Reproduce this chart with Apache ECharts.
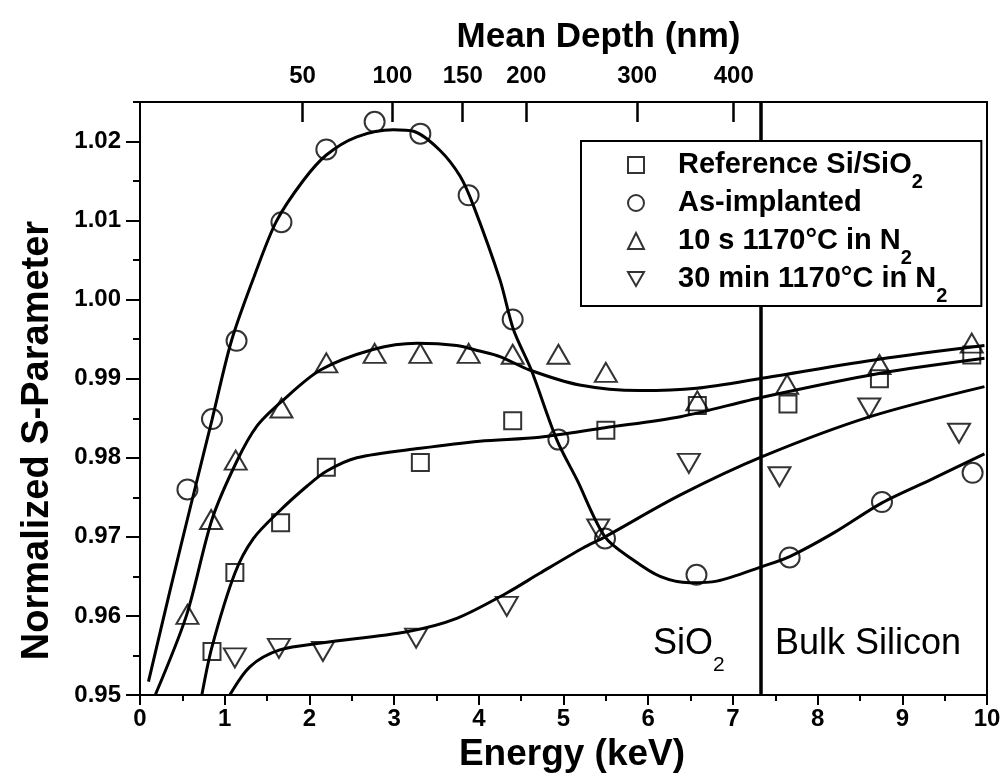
<!DOCTYPE html>
<html>
<head>
<meta charset="utf-8">
<script src="https://cdn.jsdelivr.net/npm/echarts@6/dist/echarts.min.js"></script>
<style>
html,body{margin:0;padding:0;background:#fff;}
#c{width:1006px;height:784px;}
</style>
</head>
<body>
<div id="c"></div>
<script>
// ---------- measured points ----------
const refE = [0.85, 1.12, 1.66, 2.20, 3.31, 4.40, 5.50, 6.58, 7.65, 8.73, 9.82];
const refS = [0.9555, 0.9655, 0.9718, 0.9788, 0.9794, 0.9847, 0.9835, 0.9866, 0.9868, 0.9900, 0.9930];

const asImpE = [0.56, 0.85, 1.14, 1.67, 2.20, 2.77, 3.31, 3.88, 4.40, 4.94, 5.49, 6.57, 7.67, 8.76, 9.83];
const asImpS = [0.9760, 0.9849, 0.9948, 1.0098, 1.0190, 1.0225, 1.0210, 1.0132, 0.9975, 0.9823, 0.9698, 0.9652, 0.9674, 0.9744, 0.9781];

const ann10sE = [0.56, 0.84, 1.13, 1.67, 2.20, 2.77, 3.31, 3.88, 4.40, 4.94, 5.50, 6.58, 7.64, 8.73, 9.82];
const ann10sS = [0.9602, 0.9722, 0.9797, 0.9863, 0.9920, 0.9932, 0.9932, 0.9932, 0.9931, 0.9931, 0.9908, 0.9872, 0.9893, 0.9918, 0.9945];

const ann30mE = [1.12, 1.64, 2.16, 3.26, 4.33, 5.41, 6.48, 7.55, 8.61, 9.67];
const ann30mS = [0.9547, 0.9559, 0.9555, 0.9572, 0.9612, 0.9710, 0.9793, 0.9776, 0.9863, 0.9831];

// ---------- fitted curves ----------
const refFitE = [0.73, 0.85, 1.12, 1.34, 1.65, 1.97, 2.20, 2.56, 3.31, 4.01, 4.72, 5.49, 6.38, 7.36, 8.74, 9.97];
const refFitS = [0.9500, 0.9561, 0.9654, 0.9698, 0.9733, 0.9764, 0.9783, 0.9800, 0.9812, 0.9821, 0.9826, 0.9838, 0.9852, 0.9877, 0.9907, 0.9926];

const asImpFitE = [0.10, 0.35, 0.60, 0.85, 1.08, 1.35, 1.61, 1.93, 2.20, 2.56, 2.99, 3.23, 3.54, 3.78, 3.94, 4.25, 4.41, 4.62, 4.92, 5.16, 5.49, 5.82, 6.14, 6.49, 6.81, 7.36, 7.67, 8.19, 8.76, 9.35, 9.97];
const asImpFitS = [0.9517, 0.9630, 0.9740, 0.9848, 0.9948, 1.0030, 1.0099, 1.0151, 1.0183, 1.0206, 1.0215, 1.0213, 1.0189, 1.0156, 1.0118, 1.0025, 0.9962, 0.9911, 0.9823, 0.9772, 0.9700, 0.9671, 0.9650, 0.9642, 0.9644, 0.9663, 0.9675, 0.9705, 0.9743, 0.9773, 0.9805];

const ann10sFitE = [0.18, 0.55, 0.85, 1.14, 1.38, 1.67, 2.13, 2.75, 3.27, 3.74, 4.01, 4.25, 4.60, 5.19, 5.90, 6.57, 7.36, 8.74, 9.97];
const ann10sFitS = [0.9500, 0.9601, 0.9722, 0.9795, 0.9840, 0.9871, 0.9911, 0.9937, 0.9945, 0.9942, 0.9935, 0.9928, 0.9911, 0.9892, 0.9885, 0.9888, 0.9901, 0.9925, 0.9942];

const ann30mFitE = [1.06, 1.30, 1.65, 2.16, 3.15, 3.74, 4.33, 4.72, 5.23, 5.49, 6.38, 7.36, 8.62, 9.97];
const ann30mFitS = [0.9500, 0.9536, 0.9557, 0.9566, 0.9580, 0.9597, 0.9629, 0.9654, 0.9686, 0.9700, 0.9753, 0.9802, 0.9852, 0.9890];

// ---------- axes ----------
const sTicks = [0.95, 0.96, 0.97, 0.98, 0.99, 1.00, 1.01, 1.02];
const depthLabels = [50, 100, 150, 200, 300, 400];
const depthEnergies = [1.92, 2.98, 3.81, 4.56, 5.87, 7.01];
const boundaryEnergy = 7.33;

const seriesNames = ['Reference Si/SiO2', 'As-implanted', '10 s 1170°C in N2', '30 min 1170°C in N2'];
const legendRich = {
  'Reference Si/SiO2': '{g|}{t|Reference Si/SiO}{s|2}',
  'As-implanted': '{g|}{t|As-implanted}{s| }',
  '10 s 1170°C in N2': '{g|}{t|10 s 1170°C in N}{s|2}',
  '30 min 1170°C in N2': '{g|}{t|30 min 1170°C in N}{s|2}'
};

const FONT = "'Liberation Sans', Arial, Helvetica, sans-serif";
const BLACK = '#000';
const pairs = (xs, ys) => xs.map((x, i) => [x, ys[i]]);
const markerStyle = { color: 'rgba(0,0,0,0)', borderColor: BLACK, borderWidth: 2 };
const fitLine = (name, xs, ys) => ({
  name: name, type: 'line', data: pairs(xs, ys), xAxisIndex: 0, yAxisIndex: 0,
  showSymbol: false, symbol: 'none', smooth: 0.3,
  lineStyle: { color: BLACK, width: 3 }, z: 2, silent: true
});
const dots = (name, xs, ys, symbol, size, rotate) => ({
  name: name, type: 'scatter', data: pairs(xs, ys), xAxisIndex: 0, yAxisIndex: 0,
  symbol: symbol, symbolSize: size, symbolRotate: rotate || 0,
  itemStyle: markerStyle, z: 3
});

const series = [
  fitLine('fit-ref', refFitE, refFitS),
  fitLine('fit-asimp', asImpFitE, asImpFitS),
  fitLine('fit-10s', ann10sFitE, ann10sFitS),
  fitLine('fit-30m', ann30mFitE, ann30mFitS),
  dots(seriesNames[0], refE, refS, 'rect', 17),
  dots(seriesNames[1], asImpE, asImpS, 'circle', 20),
  dots(seriesNames[2], ann10sE, ann10sS, 'triangle', [22, 19]),
  dots(seriesNames[3], ann30mE, ann30mS, 'triangle', [22, 19], 180)
];
series[0].markLine = {
  silent: true, z: 2, symbol: ['none', 'none'], label: { show: false },
  lineStyle: { color: BLACK, width: 3.5, type: 'solid' },
  data: [{ xAxis: boundaryEnergy }], animation: false
};

const tickLabel = { fontFamily: FONT, fontSize: 24, fontWeight: 'bold', color: BLACK };
const titleStyle = (size) => ({ fontFamily: FONT, fontSize: size, fontWeight: 'bold', color: BLACK, lineHeight: size });

const option = {
  backgroundColor: '#fff',
  animation: false,
  grid: { left: 140, right: 19, top: 102, bottom: 89, show: true, borderColor: BLACK, borderWidth: 2,
          containLabel: false, outerBoundsMode: 'none' },
  xAxis: [
    {
      type: 'value', position: 'bottom', min: 0, max: 10, interval: 1,
      name: 'Energy (keV)', nameLocation: 'middle', nameGap: 37,
      nameTextStyle: Object.assign(titleStyle(37), { padding: [0, 0, 0, 17] }),
      axisLine: { show: true, lineStyle: { color: BLACK, width: 2 } },
      axisTick: { show: true, inside: false, length: 10, lineStyle: { color: BLACK, width: 2 } },
      minorTick: { show: true, splitNumber: 2, length: 6, lineStyle: { color: BLACK, width: 2 } },
      axisLabel: Object.assign({ margin: 12, formatter: v => String(v) }, tickLabel),
      splitLine: { show: false }, minorSplitLine: { show: false }
    },
    {
      type: 'value', position: 'top', min: 0, max: 10,
      name: 'Mean Depth (nm)', nameLocation: 'middle', nameGap: 47,
      nameTextStyle: Object.assign(titleStyle(35), { padding: [0, 0, 0, 70] }),
      axisLine: { show: true, lineStyle: { color: BLACK, width: 2 } },
      axisTick: { show: true, inside: true, length: 20, customValues: depthEnergies, lineStyle: { color: BLACK, width: 2.5 } },
      axisLabel: Object.assign({
        margin: 14, customValues: depthEnergies,
        formatter: v => {
          let best = 0;
          depthEnergies.forEach((e, i) => { if (Math.abs(e - v) < Math.abs(depthEnergies[best] - v)) best = i; });
          return String(depthLabels[best]);
        }
      }, tickLabel),
      splitLine: { show: false }
    }
  ],
  yAxis: [
    {
      type: 'value', position: 'left', min: 0.95, max: 1.025,
      name: 'Normalized S-Parameter', nameLocation: 'middle', nameGap: 83, nameRotate: 90,
      nameTextStyle: Object.assign(titleStyle(38), { padding: [0, 84, 0, 0] }),
      axisLine: { show: true, lineStyle: { color: BLACK, width: 2 } },
      axisTick: { show: true, inside: false, length: 14, customValues: sTicks, lineStyle: { color: BLACK, width: 2 } },
      axisLabel: Object.assign({ margin: 19, customValues: sTicks, formatter: v => v.toFixed(2) }, tickLabel),
      splitLine: { show: false }
    },
    {
      type: 'value', position: 'left', min: 0.95, max: 1.025,
      axisLine: { show: false },
      axisTick: { show: true, inside: false, length: 7, customValues: sTicks.map(v => v + 0.005), lineStyle: { color: BLACK, width: 2 } },
      axisLabel: { show: false },
      splitLine: { show: false }
    }
  ],
  legend: {
    orient: 'vertical', left: 581, top: 141, z: 20,
    data: [
      { name: seriesNames[0] },
      { name: seriesNames[1] },
      { name: seriesNames[2] },
      { name: seriesNames[3], icon: 'path://M0,0L20,0L10,17.3Z' }
    ],
    itemWidth: 16, itemHeight: 16, itemGap: -4,
    padding: [9, 34, 0, 46],
    borderColor: BLACK, borderWidth: 2, backgroundColor: '#fff', borderRadius: 0,
    itemStyle: { color: 'rgba(0,0,0,0)', borderColor: BLACK, borderWidth: 2 },
    selectedMode: false,
    formatter: name => legendRich[name],
    textStyle: {
      fontFamily: FONT, fontSize: 29, fontWeight: 'bold', color: BLACK, lineHeight: 30,
      rich: {
        g: { width: 29 },
        t: { fontFamily: FONT, fontSize: 29, fontWeight: 'bold', color: BLACK, lineHeight: 30 },
        s: { fontFamily: FONT, fontSize: 20, fontWeight: 'bold', color: BLACK, lineHeight: 20, padding: [17, 0, -17, 0] }
      }
    }
  },
  graphic: [
    {
      type: 'text', left: 653, top: 626, silent: true, z: 10,
      style: {
        text: '{a|SiO}{b|2}',
        rich: {
          a: { fontFamily: FONT, fontSize: 36, lineHeight: 36, fill: BLACK },
          b: { fontFamily: FONT, fontSize: 21, lineHeight: 21, fill: BLACK, padding: [21, 0, -21, 0] }
        }
      }
    },
    {
      type: 'text', left: 775, top: 626, silent: true, z: 10,
      style: { text: 'Bulk Silicon', font: "36px 'Liberation Sans', Arial, sans-serif", fill: BLACK, lineHeight: 36 }
    }
  ],
  series: series
};

const chart = echarts.init(document.getElementById('c'), null, { renderer: 'canvas' });
chart.setOption(option);
</script>
</body>
</html>
